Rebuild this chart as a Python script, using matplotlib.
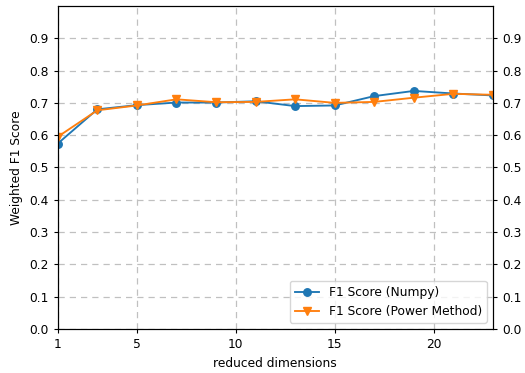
import matplotlib
matplotlib.use("Agg")
import matplotlib.pyplot as plt

dims = [1, 3, 5, 7, 9, 11, 13, 15, 17, 19, 21, 23]
f1_numpy = [0.574, 0.680, 0.693, 0.701, 0.701, 0.705, 0.690, 0.692, 0.721, 0.737, 0.729, 0.723]
f1_power = [0.595, 0.677, 0.692, 0.711, 0.702, 0.703, 0.711, 0.700, 0.703, 0.716, 0.728, 0.725]
yticks = [0.0, 0.1, 0.2, 0.3, 0.4, 0.5, 0.6, 0.7, 0.8, 0.9]
xticks = [1, 5, 10, 15, 20]

plt.rcParams.update({
    "font.size": 8.8,
    "lines.linewidth": 1.35,
    "lines.markersize": 5.4,
    "axes.linewidth": 0.8,
    "xtick.major.size": 3.2,
    "ytick.major.size": 3.2,
})

fig = plt.figure(figsize=(5.25, 3.73), dpi=100)
ax = fig.add_axes([0.110, 0.118, 0.829, 0.866])

ax.plot(dims, f1_numpy, marker="o", color="#1f77b4", label="F1 Score (Numpy)")
ax.plot(dims, f1_power, marker="v", color="#ff7f0e", label="F1 Score (Power Method)")

ax.set_xlim(1, 23)
ax.set_ylim(0, 1)
ax.set_xticks(xticks)
ax.set_yticks(yticks)
ax.set_yticklabels([f"{t:.1f}" for t in yticks])
ax.grid(True, color="#c0c0c0", linestyle=(0, (5, 4)), linewidth=0.9)
ax.set_xlabel("reduced dimensions")
ax.set_ylabel("Weighted F1 Score")
ax.legend(loc="lower right")

ax2 = ax.twinx()
ax2.set_ylim(0, 1)
ax2.set_yticks(yticks)
ax2.set_yticklabels([f"{t:.1f}" for t in yticks])

fig.savefig("out.png", dpi=100)
